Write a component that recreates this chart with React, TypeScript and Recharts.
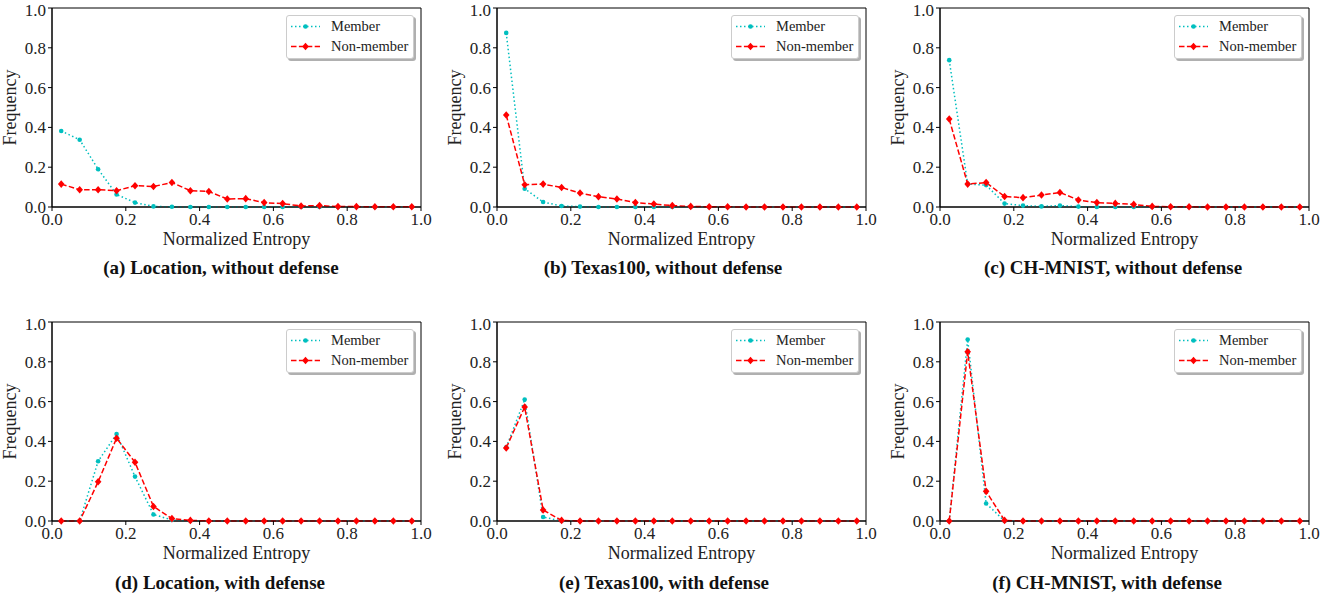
import React from "react";
import {
  LineChart,
  Line,
  XAxis,
  YAxis,
  ReferenceArea,
} from "recharts";

// histogram bin centres (normalized entropy)
const bins = [
  0.025, 0.075, 0.125, 0.175, 0.225, 0.275, 0.325, 0.375, 0.425, 0.475,
  0.525, 0.575, 0.625, 0.675, 0.725, 0.775, 0.825, 0.875, 0.925, 0.975,
];

const xTicks = [0, 0.2, 0.4, 0.6, 0.8, 1.0];
const yTicks = [0, 0.2, 0.4, 0.6, 0.8, 1.0];

// (a) Location, without defense
const locNoDefMember = [0.382, 0.338, 0.19, 0.063, 0.022, 0.003, 0.001, 0, 0, 0, 0, 0, 0, 0, 0, 0, 0, 0, 0, 0];
const locNoDefNonMember = [0.115, 0.087, 0.087, 0.082, 0.107, 0.103, 0.123, 0.082, 0.078, 0.04, 0.042, 0.022, 0.017, 0.005, 0.007, 0.002, 0.002, 0.001, 0.001, 0.001];

// (b) Texas100, without defense
const texNoDefMember = [0.875, 0.092, 0.025, 0.005, 0.002, 0, 0, 0, 0, 0, 0, 0, 0, 0, 0, 0, 0, 0, 0, 0];
const texNoDefNonMember = [0.462, 0.112, 0.115, 0.098, 0.07, 0.052, 0.04, 0.022, 0.015, 0.007, 0.003, 0.001, 0.001, 0, 0, 0, 0, 0, 0, 0];

// (c) CH-MNIST, without defense
const chNoDefMember = [0.738, 0.115, 0.11, 0.017, 0.007, 0.003, 0.007, 0.002, 0, 0, 0, 0, 0, 0, 0, 0, 0, 0, 0, 0];
const chNoDefNonMember = [0.442, 0.115, 0.123, 0.053, 0.047, 0.06, 0.073, 0.035, 0.022, 0.018, 0.013, 0.003, 0.001, 0.001, 0, 0, 0, 0, 0, 0];

// (d) Location, with defense
const locDefMember = [0, 0, 0.3, 0.437, 0.223, 0.033, 0.005, 0, 0, 0, 0, 0, 0, 0, 0, 0, 0, 0, 0, 0];
const locDefNonMember = [0, 0, 0.197, 0.416, 0.295, 0.073, 0.012, 0.003, 0, 0, 0, 0, 0, 0, 0, 0, 0, 0, 0, 0];

// (e) Texas100, with defense
const texDefMember = [0.37, 0.61, 0.02, 0, 0, 0, 0, 0, 0, 0, 0, 0, 0, 0, 0, 0, 0, 0, 0, 0];
const texDefNonMember = [0.367, 0.573, 0.055, 0.003, 0, 0, 0, 0, 0, 0, 0, 0, 0, 0, 0, 0, 0, 0, 0, 0];

// (f) CH-MNIST, with defense
const chDefMember = [0, 0.912, 0.088, 0, 0, 0, 0, 0, 0, 0, 0, 0, 0, 0, 0, 0, 0, 0, 0, 0];
const chDefNonMember = [0, 0.85, 0.149, 0.003, 0, 0, 0, 0, 0, 0, 0, 0, 0, 0, 0, 0, 0, 0, 0, 0];

const CYAN = "#00bfbf";
const RED = "#ff0000";
const FONT = "'Liberation Serif', 'Times New Roman', serif";

const CircleDot = (props: any) => {
  const { cx, cy } = props;
  if (cx == null || cy == null) return null;
  return <circle cx={cx} cy={cy} r={2.3} fill={CYAN} stroke="none" />;
};

const DiamondDot = (props: any) => {
  const { cx, cy } = props;
  if (cx == null || cy == null) return null;
  return (
    <polygon
      points={`${cx},${cy - 3.8} ${cx + 3.3},${cy} ${cx},${cy + 3.8} ${cx - 3.3},${cy}`}
      fill={RED}
      stroke="none"
    />
  );
};

const LegendBox = () => (
  <div
    style={{
      width: 128,
      height: 44,
      boxSizing: "border-box",
      border: "1px solid #cccccc",
      borderRadius: 3,
      background: "#fff",
      boxShadow: "2px 2px 0 #b0b0b0",
      fontFamily: FONT,
      fontSize: 14.5,
      color: "#222",
      position: "relative",
    }}
  >
    <svg width={36} height={44} style={{ position: "absolute", left: 0, top: 0 }}>
      <line x1={4} y1={10.5} x2={33} y2={10.5} stroke={CYAN} strokeWidth={1.5} strokeDasharray="1.5 2.5" />
      <circle cx={18.5} cy={10.5} r={2.3} fill={CYAN} />
      <line x1={4} y1={30.5} x2={33} y2={30.5} stroke={RED} strokeWidth={1.5} strokeDasharray="5.5 2.4" />
      <polygon points="18.5,26.7 21.8,30.5 18.5,34.3 15.2,30.5" fill={RED} />
    </svg>
    <div style={{ position: "absolute", left: 44, top: 1, lineHeight: "18px" }}>Member</div>
    <div style={{ position: "absolute", left: 44, top: 21, lineHeight: "18px" }}>Non-member</div>
  </div>
);

interface PanelProps {
  left: number;
  top: number;
  member: number[];
  nonMember: number[];
  caption: string;
  captionX: number;
  captionY: number;
}

const Panel = ({ left, top, member, nonMember, caption, captionX, captionY }: PanelProps) => {
  const data = bins.map((x, i) => ({ x, member: member[i], nonMember: nonMember[i] }));
  const tickStyle = { fontSize: 17, fill: "#222", fontFamily: FONT };
  return (
    <>
      <div style={{ position: "absolute", left: left - 52, top: top - 8, width: 440, height: 250 }}>
        <LineChart width={440} height={250} data={data} margin={{ top: 8, right: 19, bottom: 3, left: 0 }}>
          <XAxis
            type="number"
            dataKey="x"
            domain={[0, 1]}
            ticks={xTicks}
            tickFormatter={(v: number) => v.toFixed(1)}
            tick={tickStyle}
            tickSize={4}
            tickMargin={2}
            height={40}
            stroke="#000"
            label={{
              value: "Normalized Entropy",
              position: "insideBottom",
              offset: 2,
              style: { fontSize: 18, fill: "#222", fontFamily: FONT },
            }}
          />
          <YAxis
            type="number"
            domain={[0, 1]}
            ticks={yTicks}
            tickFormatter={(v: number) => v.toFixed(1)}
            tick={tickStyle}
            tickSize={4}
            tickMargin={2}
            width={52}
            stroke="#000"
            label={{
              value: "Frequency",
              angle: -90,
              position: "insideLeft",
              offset: 10,
              style: { fontSize: 18, fill: "#222", fontFamily: FONT, textAnchor: "middle" },
            }}
          />
          <ReferenceArea x1={0} x2={1} y1={0} y2={1} fill="none" fillOpacity={0} stroke="#000" strokeWidth={1} />
          <Line
            type="linear"
            dataKey="member"
            stroke={CYAN}
            strokeWidth={1.5}
            strokeDasharray="1.5 2.5"
            dot={<CircleDot />}
            activeDot={false}
            isAnimationActive={false}
          />
          <Line
            type="linear"
            dataKey="nonMember"
            stroke={RED}
            strokeWidth={1.5}
            strokeDasharray="5.5 2.4"
            dot={<DiamondDot />}
            activeDot={false}
            isAnimationActive={false}
          />
        </LineChart>
        <div style={{ position: "absolute", left: 286, top: 15 }}>
          <LegendBox />
        </div>
      </div>
      <div
        style={{
          position: "absolute",
          left: captionX - 200,
          width: 400,
          top: captionY - 12,
          textAlign: "center",
          fontFamily: FONT,
          fontWeight: "bold",
          fontSize: 19,
          lineHeight: "24px",
          color: "#111",
        }}
      >
        {caption}
      </div>
    </>
  );
};

export default function App() {
  return (
    <div style={{ position: "absolute", left: 0, top: 0, width: 1338, height: 598, background: "#fff", overflow: "hidden" }}>
      <Panel left={52} top={8} member={locNoDefMember} nonMember={locNoDefNonMember} caption="(a) Location, without defense" captionX={221} captionY={268} />
      <Panel left={497} top={8} member={texNoDefMember} nonMember={texNoDefNonMember} caption="(b) Texas100, without defense" captionX={663} captionY={268} />
      <Panel left={940} top={8} member={chNoDefMember} nonMember={chNoDefNonMember} caption="(c) CH-MNIST, without defense" captionX={1113} captionY={268} />
      <Panel left={52} top={322} member={locDefMember} nonMember={locDefNonMember} caption="(d) Location, with defense" captionX={220} captionY={583} />
      <Panel left={497} top={322} member={texDefMember} nonMember={texDefNonMember} caption="(e) Texas100, with defense" captionX={664} captionY={583} />
      <Panel left={940} top={322} member={chDefMember} nonMember={chDefNonMember} caption="(f) CH-MNIST, with defense" captionX={1107} captionY={583} />
    </div>
  );
}
